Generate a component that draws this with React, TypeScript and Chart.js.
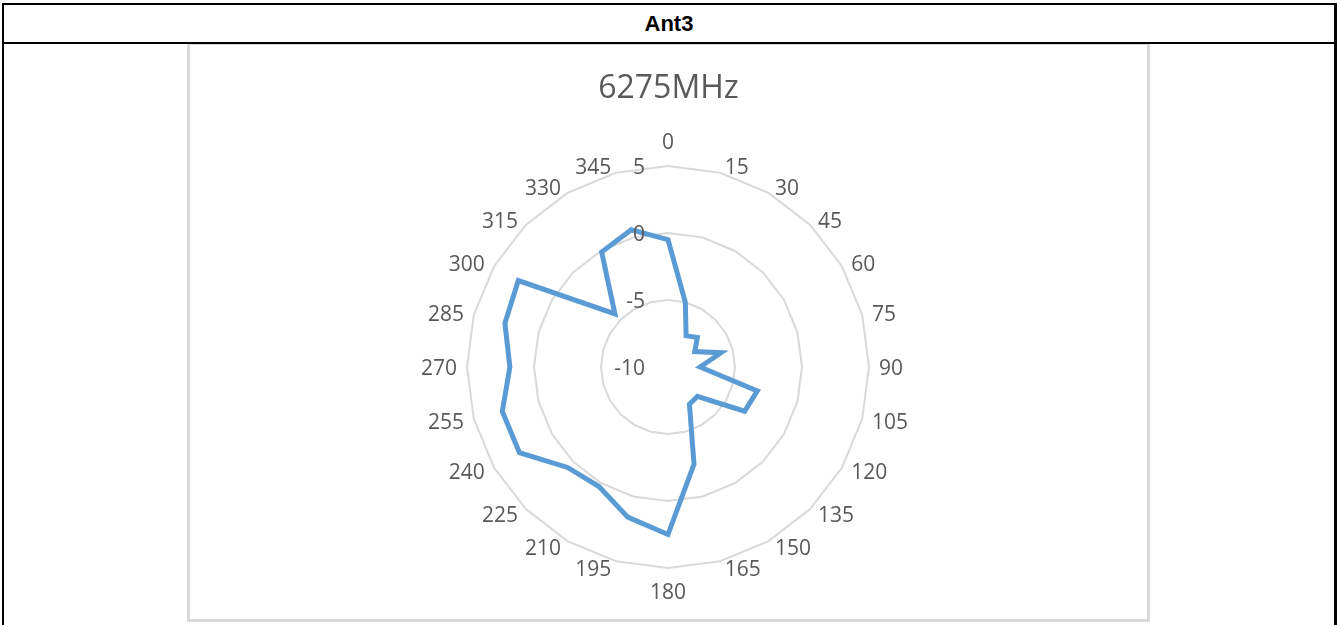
import React, { useEffect, useRef } from "react";
import { Chart, registerables } from "chart.js";

Chart.register(...registerables);

const HEADER_TEXT = "Ant3";
const CHART_TITLE = "6275MHz";
const ANGLE_LABELS = [
  "0", "15", "30", "45", "60", "75", "90", "105", "120", "135", "150", "165",
  "180", "195", "210", "225", "240", "255", "270", "285", "300", "315", "330", "345",
];
const GAIN_VALUES = [
  -0.5, -5.0, -7.3, -6.9, -7.7, -5.9, -7.6, -3.1, -3.4, -6.9, -6.8, -2.5,
  2.5, 1.6, 0.3, 0.6, 2.8, 2.8, 1.8, 2.6, 2.9, -4.4, -0.1, 0.6,
];
const AXIS_MIN = -10;
const AXIS_MAX = 5;
const AXIS_STEP = 5;

const TEXT_GREY = "#595959";
const GRID_GREY = "#d9d9d9";
const LINE_BLUE = "#5B9BD5";
const LABEL_FONT = "'Open Sans', 'Noto Sans', sans-serif";
const LABEL_SIZE = 21;

// Excel-like placement of value ticks (left of the 0° axis) and angle labels.
const excelLabels = {
  id: "excelLabels",
  afterDatasetsDraw(chart: any) {
    const s = chart.scales.r;
    const ctx = chart.ctx;
    ctx.save();
    ctx.font = `${LABEL_SIZE}px ${LABEL_FONT}`;
    ctx.fillStyle = TEXT_GREY;
    ctx.textBaseline = "middle";

    // value ticks
    ctx.textAlign = "right";
    s.ticks.forEach((t: any) => {
      const d = s.getDistanceFromCenterForValue(t.value);
      ctx.fillText(String(t.value), s.xCenter - 23, s.yCenter - d + 2);
    });

    // angle labels
    const labels: string[] = chart.data.labels;
    labels.forEach((lab, i) => {
      const a = s.getIndexAngle(i);
      const p = s.getPointPosition(i, s.drawingArea);
      const sn = Math.sin(a);
      const cs = Math.cos(a);
      if (Math.abs(sn) < 1e-6) {
        ctx.textAlign = "center";
        ctx.fillText(lab, p.x, p.y + 1.5 - (cs > 0 ? 24 : -24));
      } else {
        const gap = 3 + 7 * Math.abs(sn);
        ctx.textAlign = sn > 0 ? "left" : "right";
        ctx.fillText(lab, p.x + (sn > 0 ? gap : -gap), p.y + 2 - 7.3 * cs);
      }
    });
    ctx.restore();
  },
};

function RadarChart() {
  const ref = useRef<HTMLCanvasElement | null>(null);
  useEffect(() => {
    if (!ref.current) return;
    const chart = new Chart(ref.current, {
      type: "radar",
      data: {
        labels: ANGLE_LABELS,
        datasets: [
          {
            label: CHART_TITLE,
            data: GAIN_VALUES,
            borderColor: LINE_BLUE,
            borderWidth: 5,
            fill: false,
            pointRadius: 0,
            pointHoverRadius: 0,
            tension: 0,
          },
        ],
      },
      options: {
        animation: false,
        responsive: false,
        maintainAspectRatio: false,
        layout: { padding: { top: 0, bottom: 51, left: 0, right: 0 } },
        plugins: {
          legend: { display: false },
          tooltip: { enabled: false },
          title: {
            display: true,
            text: CHART_TITLE,
            color: TEXT_GREY,
            font: { family: LABEL_FONT, size: 32, weight: "normal", lineHeight: 1.2 },
            padding: { top: 26, bottom: 57.6 },
          },
        },
        scales: {
          r: {
            min: AXIS_MIN,
            max: AXIS_MAX,
            beginAtZero: false,
            ticks: { display: false, stepSize: AXIS_STEP },
            grid: { color: GRID_GREY, lineWidth: 2, circular: false },
            angleLines: { display: false },
            pointLabels: { display: false },
          },
        },
      },
      plugins: [excelLabels],
    } as any);
    return () => chart.destroy();
  }, []);
  return <canvas ref={ref} width={957} height={575} style={{ display: "block" }} />;
}

export default function App() {
  return (
    <div
      style={{
        position: "fixed",
        left: 0,
        top: 0,
        width: 1337,
        height: 625,
        background: "#fff",
        overflow: "hidden",
      }}
    >
      {/* table frame */}
      <div style={{ position: "absolute", left: 2, top: 3, width: 1335, height: 2, background: "#000" }} />
      <div style={{ position: "absolute", left: 2, top: 3, width: 2, height: 622, background: "#000" }} />
      <div style={{ position: "absolute", left: 1334, top: 3, width: 3, height: 622, background: "#000" }} />
      <div
        style={{
          position: "absolute",
          left: 4,
          top: 5,
          width: 1330,
          height: 37,
          display: "flex",
          alignItems: "center",
          justifyContent: "center",
          fontFamily: "'Liberation Sans', Arial, sans-serif",
          fontWeight: "bold",
          fontSize: 22,
          color: "#000",
        }}
      >
        {HEADER_TEXT}
      </div>
      {/* chart box */}
      <div
        style={{
          position: "absolute",
          left: 187,
          top: 42,
          width: 963,
          height: 580,
          border: `3px solid ${GRID_GREY}`,
          boxSizing: "border-box",
        }}
      />
      <div style={{ position: "absolute", left: 2, top: 42, width: 1335, height: 2, background: "#000" }} />
      <div style={{ position: "absolute", left: 190, top: 44, width: 957, height: 575 }}>
        <RadarChart />
      </div>
    </div>
  );
}
